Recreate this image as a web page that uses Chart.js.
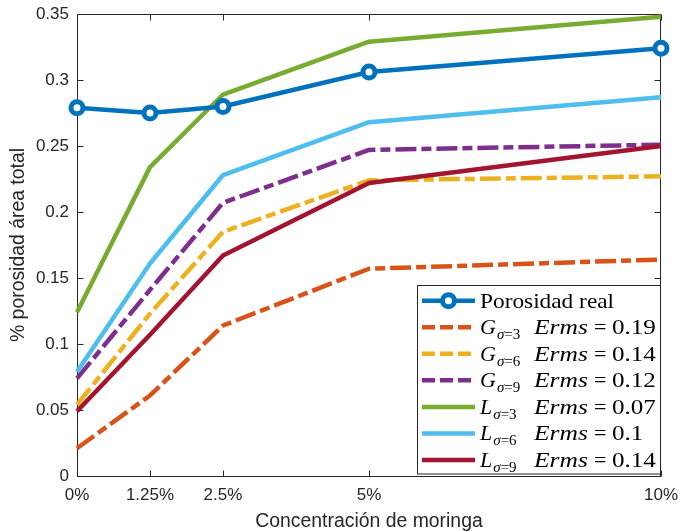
<!DOCTYPE html>
<html><head><meta charset="utf-8">
<script src="https://cdn.jsdelivr.net/npm/chart.js@4/dist/chart.umd.min.js"></script>
<style>html,body{margin:0;padding:0;background:#fff;}#wrap{width:678px;height:531px;position:relative;}</style>
</head><body><div id="wrap"><canvas id="c" width="678" height="531"></canvas></div>
<script>
// ---- data ----
const concentrations = [0, 1.25, 2.5, 5, 10];
const xTickValues = [0, 1.25, 2.5, 5, 10];
const yTickValues = [0, 0.05, 0.1, 0.15, 0.2, 0.25, 0.3, 0.35];
const porosidadReal = [0.279, 0.275, 0.280, 0.306, 0.324];
const gSigma3 = [0.021, 0.061, 0.114, 0.157, 0.164];
const gSigma6 = [0.054, 0.123, 0.185, 0.224, 0.227];
const gSigma9 = [0.074, 0.141, 0.207, 0.247, 0.251];
const lSigma3 = [0.124, 0.234, 0.289, 0.329, 0.348];
const lSigma6 = [0.079, 0.161, 0.228, 0.268, 0.287];
const lSigma9 = [0.049, 0.107, 0.167, 0.222, 0.250];
const fitLetters = ['G', 'G', 'G', 'L', 'L', 'L'];
const fitSigmas = ['3', '6', '9', '3', '6', '9'];
const fitErms = ['0.19', '0.14', '0.12', '0.07', '0.1', '0.14'];
const realLabel = 'Porosidad real';
const xTitle = 'Concentración de moringa';
const yTitle = '% porosidad área total';

const fitSeries = [gSigma3, gSigma6, gSigma9, lSigma3, lSigma6, lSigma9];
const fitColors = ['#D95319', '#EDB120', '#7E2F8E', '#77AC30', '#4DBEEE', '#A2142F'];
const realColor = '#0072BD';
const axisColor = '#262626';
const plotDash = [21, 5, 10, 5];
const legendDash = [13, 5];
const SANS = '"Liberation Sans", Arial, sans-serif';
const SERIF = '"Liberation Serif", "Times New Roman", serif';

const pts = arr => arr.map((v, i) => ({x: concentrations[i], y: v}));

const datasets = [{
  label: realLabel, data: pts(porosidadReal), borderColor: realColor, backgroundColor: '#ffffff',
  borderWidth: 4.5, pointRadius: 6, pointBorderWidth: 5, pointBackgroundColor: '#ffffff',
  pointBorderColor: realColor, pointHoverRadius: 6, tension: 0, clip: false, order: 0
}];
fitSeries.forEach((s, i) => {
  datasets.push({
    label: fitLetters[i] + ' σ=' + fitSigmas[i] + ' Erms = ' + fitErms[i],
    data: pts(s), borderColor: fitColors[i], backgroundColor: fitColors[i],
    borderWidth: 4.5, pointRadius: 0, pointHoverRadius: 0, tension: 0, clip: false,
    borderDash: fitLetters[i] === 'G' ? plotDash : [], borderCapStyle: 'butt', borderJoinStyle: 'round',
    order: 7 - i
  });
});

const framePlugin = {
  id: 'frame',
  beforeDatasetsDraw(chart) {
    const {ctx, chartArea: a, scales: {x, y}} = chart;
    ctx.save();
    ctx.strokeStyle = axisColor; ctx.lineWidth = 1;
    const L = Math.round(a.left) + 0.5, T = Math.round(a.top) + 0.5;
    const R = Math.round(a.right) - 0.5, B = Math.round(a.bottom) + 0.5;
    ctx.strokeRect(L, T, R - L, B - T);
    ctx.beginPath();
    const tl = 6;
    xTickValues.forEach(v => {
      const px = Math.round(x.getPixelForValue(v)) + 0.5;
      ctx.moveTo(px, B); ctx.lineTo(px, B - tl);
      ctx.moveTo(px, T); ctx.lineTo(px, T + tl);
    });
    yTickValues.forEach(v => {
      const py = Math.round(y.getPixelForValue(v)) + 0.5;
      ctx.moveTo(L, py); ctx.lineTo(L + tl, py);
      ctx.moveTo(R, py); ctx.lineTo(R - tl, py);
    });
    ctx.stroke();
    ctx.restore();
  }
};

function scaledText(ctx, text, x, y, sx) {
  ctx.save(); ctx.translate(x, y); ctx.scale(sx, 1); ctx.fillText(text, 0, 0); ctx.restore();
}

const legendPlugin = {
  id: 'mathLegend',
  afterDraw(chart) {
    const {ctx, chartArea: a} = chart;
    const bx = 417, by = 285.5, bw = Math.round(a.right) - 1 - bx, bh = 474 - by;
    ctx.save();
    ctx.fillStyle = '#ffffff';
    ctx.fillRect(bx, by, bw, bh);
    ctx.strokeStyle = axisColor; ctx.lineWidth = 1;
    ctx.strokeRect(bx + 0.5, by, bw, bh);
    const rowH = 26.55, y0 = 300.7, lx0 = 422, lx1 = 475, tx = 480;
    ctx.textBaseline = 'alphabetic'; ctx.textAlign = 'left';
    let cy = y0;
    ctx.strokeStyle = realColor; ctx.lineWidth = 4.5; ctx.setLineDash([]);
    ctx.beginPath(); ctx.moveTo(lx0, cy); ctx.lineTo(lx1, cy); ctx.stroke();
    ctx.beginPath(); ctx.arc((lx0 + lx1) / 2, cy, 6, 0, Math.PI * 2);
    ctx.fillStyle = '#fff'; ctx.fill(); ctx.lineWidth = 5; ctx.stroke();
    ctx.fillStyle = '#000';
    ctx.font = '22px ' + SERIF;
    scaledText(ctx, realLabel, tx, cy + 7, 1.06);
    for (let i = 0; i < 6; i++) {
      cy = y0 + rowH * (i + 1);
      ctx.strokeStyle = fitColors[i]; ctx.lineWidth = 4.5; ctx.lineCap = 'butt';
      ctx.setLineDash(fitLetters[i] === 'G' ? legendDash : []);
      ctx.beginPath(); ctx.moveTo(lx0, cy); ctx.lineTo(lx1, cy); ctx.stroke();
      ctx.setLineDash([]);
      const base = cy + 7;
      ctx.fillStyle = '#000';
      ctx.font = 'italic 22px ' + SERIF;
      ctx.fillText(fitLetters[i], tx, base);
      let sx = tx + ctx.measureText(fitLetters[i]).width + 1;
      ctx.font = 'italic 15px ' + SERIF;
      ctx.fillText('σ', sx, base + 5);
      sx += ctx.measureText('σ').width;
      ctx.font = '15px ' + SERIF;
      ctx.fillText('=' + fitSigmas[i], sx, base + 5);
      ctx.font = 'italic 22px ' + SERIF;
      scaledText(ctx, 'Erms', 534, base, 1.16);
      ctx.font = '22px ' + SERIF;
      ctx.fillText('=', 594, base);
      scaledText(ctx, fitErms[i], 612, base, 1.14);
    }
    ctx.restore();
  }
};

new Chart(document.getElementById('c'), {
  type: 'line',
  data: {datasets},
  options: {
    responsive: false, animation: false, devicePixelRatio: 1,
    layout: {padding: {top: 14, right: 16, left: 0, bottom: 0}},
    plugins: {legend: {display: false}, tooltip: {enabled: false}},
    elements: {line: {tension: 0}},
    scales: {
      x: {
        type: 'linear', min: 0, max: 10,
        afterBuildTicks: s => { s.ticks = xTickValues.map(v => ({value: v})); },
        afterFit: s => { s.height = 55; },
        ticks: {callback: v => v + '%', color: axisColor, font: {family: SANS, size: 17}, padding: 0, maxRotation: 0, autoSkip: false},
        grid: {display: false, drawTicks: true, tickLength: 9},
        border: {display: false},
        title: {display: true, text: xTitle, color: axisColor, font: {family: SANS, size: 19.4}, padding: {top: 0, bottom: -2}}
      },
      y: {
        min: 0, max: 0.35,
        afterBuildTicks: s => { s.ticks = yTickValues.map(v => ({value: v})); },
        afterFit: s => { s.width = 77; },
        ticks: {callback: v => String(+v.toFixed(2)), color: axisColor, font: {family: SANS, size: 17}, padding: 0},
        grid: {display: false, drawTicks: true, tickLength: 8},
        border: {display: false},
        title: {display: true, text: yTitle, color: axisColor, font: {family: SANS, size: 19.4}, padding: {top: 7, bottom: 0}}
      }
    }
  },
  plugins: [framePlugin, legendPlugin]
});
</script>
</body></html>
